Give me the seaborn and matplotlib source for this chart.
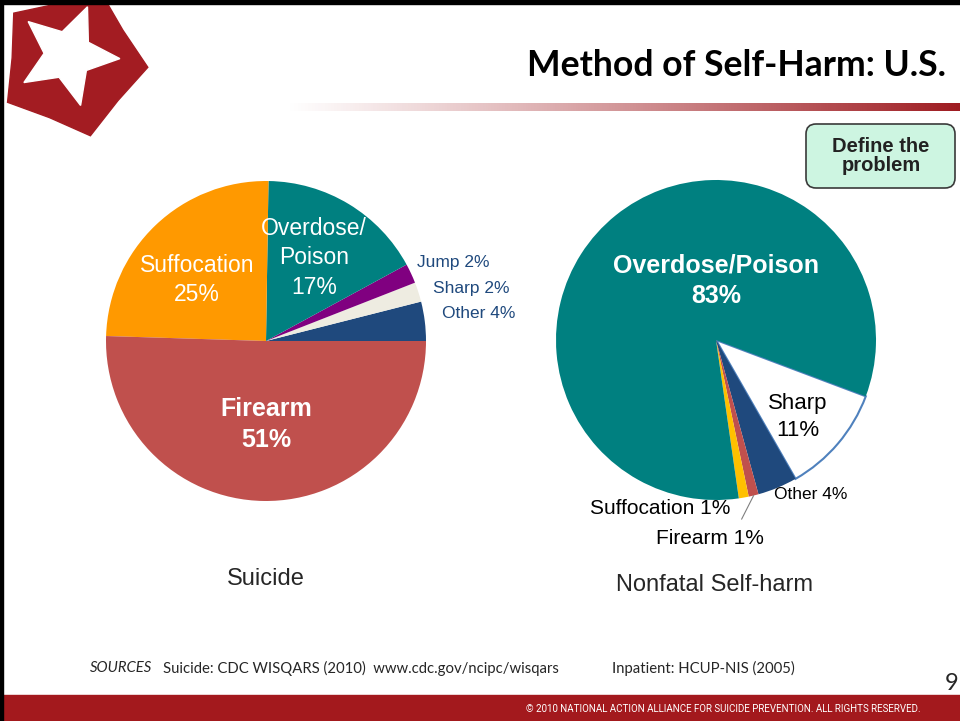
import numpy as np
import matplotlib
matplotlib.use("Agg")
import matplotlib.pyplot as plt
import seaborn as sns
from matplotlib.patches import FancyBboxPatch, Polygon, Rectangle
from matplotlib.colors import to_rgb

# --- data -------------------------------------------------------------
suicide_methods = ["Other", "Sharp", "Jump", "Overdose/Poison", "Suffocation", "Firearm"]
suicide_pct = [4, 2, 2, 17, 25, 51]
suicide_colors = ["#1F497D", "#EEECE1", "#800080", "#008080", "#FF9900", "#C0504D"]

nonfatal_methods = ["Sharp", "Other", "Firearm", "Suffocation", "Overdose/Poison"]
nonfatal_pct = [11, 4, 1, 1, 83]
nonfatal_colors = ["#FFFFFF", "#1F497D", "#C0504D", "#FFC000", "#008080"]

title = "Method of Self-Harm: U.S."
captions = ["Suicide", "Nonfatal Self-harm"]

sns.set_theme(style="white")
plt.rcParams["font.family"] = ["Liberation Sans", "DejaVu Sans"]

W, H = 960, 721
fig = plt.figure(figsize=(W / 100, H / 100), dpi=100)
fig.patch.set_facecolor("white")

# slide background in pixel coordinates
bg = fig.add_axes([0, 0, 1, 1], zorder=0)
bg.set_xlim(0, W)
bg.set_ylim(H, 0)
bg.axis("off")


def star(cx, cy, r_out, r_in, rot):
    pts = []
    for k in range(10):
        a = np.deg2rad(rot + 36 * k)
        r = r_out if k % 2 == 0 else r_in
        pts.append((cx + r * np.cos(a), cy + r * np.sin(a)))
    return pts


# logo
bg.add_patch(Polygon(star(72, 62, 76, 60, -140), color="#A31C22", zorder=2))
bg.add_patch(Polygon(star(68, 55, 52, 24, -140), color="white", zorder=3))

# title + gradient rule
bg.text(946, 66, title, ha="right", va="center", fontsize=25.6,
        fontweight="bold", family=["Lato", "DejaVu Sans"], color="black")
grad = np.zeros((1, 300, 4))
grad[..., :3] = to_rgb("#9E1B20")
grad[..., 3] = np.linspace(0, 1, 300) ** 1.1
bg.imshow(grad, extent=[285, W, 111, 103], aspect="auto", zorder=2)

# "Define the problem" box
bg.add_patch(FancyBboxPatch((806, 124), 149, 64,
                            boxstyle="round,pad=0,rounding_size=10",
                            facecolor="#CDF5E1", edgecolor="#3A3A3A", lw=1.2, zorder=2))
bg.text(881, 156, "Define the\nproblem", ha="center", va="center", fontsize=14.5,
        fontweight="bold", color="#222222", linespacing=1.0, zorder=3)

# footer
foot = dict(fontsize=10.7, va="center", family=["Lato", "DejaVu Sans"])
bg.text(90, 668, "SOURCES", fontstyle="italic", **foot)
bg.text(163, 668, "Suicide: CDC WISQARS (2010)  www.cdc.gov/ncipc/wisqars", **foot)
bg.text(612, 668, "Inpatient: HCUP-NIS (2005)", **foot)
bg.text(945, 683, "9", fontsize=17, va="center", family=["Lato", "DejaVu Sans"])
bg.add_patch(Rectangle((0, 695), W, 26, color="#A3191D", zorder=2))
bg.text(921, 709, "\u00a9 2010 NATIONAL ACTION ALLIANCE FOR SUICIDE PREVENTION. ALL RIGHTS RESERVED.",
        ha="right", va="center", fontsize=7, color="white", family=["Roboto", "DejaVu Sans"], zorder=3)

# slide frame
bg.add_patch(Rectangle((0, 0), W, 4, color="black", zorder=4))
bg.add_patch(Rectangle((0, 0), 3, H, color="black", zorder=4))


def pie_axes(cx, cy, r):
    ax = fig.add_axes([(cx - r) / W, (H - cy - r) / H, 2 * r / W, 2 * r / H], zorder=1)
    ax.set_facecolor("none")
    return ax


# --- suicide pie ------------------------------------------------------
ax1 = pie_axes(266, 341, 160)
ax1.pie(suicide_pct, colors=suicide_colors, startangle=0, counterclock=True,
        wedgeprops=dict(linewidth=0))
ax1.set_xlim(-1, 1)
ax1.set_ylim(-1, 1)
ax1.axis("off")

lab = dict(ha="center", va="center", linespacing=1.35)
ax1.text(-0.43, 0.38, f"{suicide_methods[4]}\n{suicide_pct[4]}%", color="white", fontsize=16.5, **lab)
ax1.text(0.30, 0.52, f"Overdose/\nPoison\n{suicide_pct[3]}%", color="white", fontsize=16.5, **lab)
ax1.text(0.0, -0.52, f"{suicide_methods[5]}\n{suicide_pct[5]}%", color="white", fontsize=18,
         fontweight="bold", **lab)
for (x, y), i in zip([(1.17, 0.49), (1.28, 0.33), (1.33, 0.17)], [2, 1, 0]):
    ax1.text(x, y, f"{suicide_methods[i]} {suicide_pct[i]}%", color="#1F497D", fontsize=12.5, **lab)
ax1.text(0.0, -1.49, captions[0], fontsize=17, **lab)

# --- nonfatal pie -----------------------------------------------------
ax2 = pie_axes(716, 340, 160)
wedges, _ = ax2.pie(nonfatal_pct, colors=nonfatal_colors, startangle=-20.6, counterclock=False,
                    wedgeprops=dict(linewidth=0))
wedges[0].set_edgecolor("#4F81BD")
wedges[0].set_linewidth(1.5)
ax2.set_xlim(-1, 1)
ax2.set_ylim(-1, 1)
ax2.axis("off")

ax2.text(0.0, 0.37, f"{nonfatal_methods[4]}\n{nonfatal_pct[4]}%", color="white", fontsize=18,
         fontweight="bold", **lab)
ax2.text(0.51, -0.48, f"{nonfatal_methods[0]}\n{nonfatal_pct[0]}%", color="black", fontsize=16, **lab)
ax2.text(0.59, -0.965, f"{nonfatal_methods[1]} {nonfatal_pct[1]}%", color="black", fontsize=12.5, **lab)
ax2.text(-0.35, -1.05, f"{nonfatal_methods[3]} {nonfatal_pct[3]}%", color="black", fontsize=15, **lab)
ax2.text(-0.04, -1.24, f"{nonfatal_methods[2]} {nonfatal_pct[2]}%", color="black", fontsize=15, **lab)
# leader line for the firearm slice
w = wedges[2]
mid = np.deg2rad((w.theta1 + w.theta2) / 2)
ax2.plot([np.cos(mid), 0.16], [np.sin(mid), -1.12], color="#7F7F7F", lw=0.8, clip_on=False)
ax2.text(-0.01, -1.53, captions[1], fontsize=17, **lab)

fig.savefig("out.png", dpi=100)
